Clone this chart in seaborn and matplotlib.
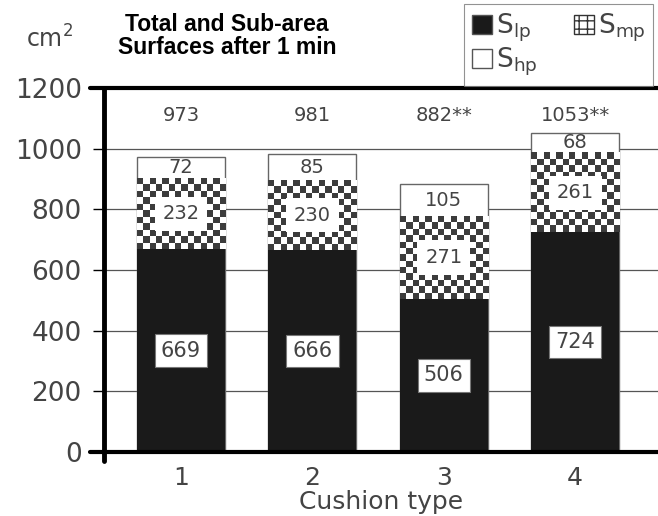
import numpy as np
import pandas as pd
import matplotlib
matplotlib.use("Agg")
import matplotlib.pyplot as plt
import seaborn as sns
from matplotlib.patches import Patch

# Dados
TIPOS = ["1", "2", "3", "4"]
S_LP = [669, 666, 506, 724]
S_MP = [232, 230, 271, 261]
S_HP = [72, 85, 105, 68]
TOTAIS = ["973", "981", "882**", "1053**"]
Y_TICKS = [0, 200, 400, 600, 800, 1000, 1200]

df = pd.DataFrame({"tipo": TIPOS, "lp": S_LP, "mp": S_MP, "hp": S_HP})
df["lp_mp"] = df["lp"] + df["mp"]
df["total"] = df["lp_mp"] + df["hp"]

# Estilo
sns.set_theme(style="white")
plt.rcParams["font.family"] = ["DejaVu Sans"]
COR_TXT = "#444444"
ESCURO = "#1a1a1a"
LARG = 0.67

fig = plt.figure(figsize=(6.58, 5.16), dpi=100)
ax = fig.add_axes([104 / 658, 64 / 516, 1 - 104 / 658, (452 - 88) / 516])

# Barras empilhadas (desenhadas do total para baixo)
sns.barplot(data=df, x="tipo", y="total", color="white", edgecolor="#666",
            linewidth=1, width=LARG, saturation=1, ax=ax)
sns.barplot(data=df, x="tipo", y="lp_mp", color="white", linewidth=0,
            width=LARG, saturation=1, ax=ax)
sns.barplot(data=df, x="tipo", y="lp", color=ESCURO, linewidth=0,
            width=LARG, saturation=1, ax=ax)

# Padrão xadrez no segmento do meio
cel_y = 21.5
for i, (lp, mp) in enumerate(zip(S_LP, S_MP)):
    ny = max(1, int(round(mp / cel_y)))
    nx = 14
    xadrez = (np.add.outer(np.arange(ny), np.arange(nx)) % 2).astype(float)
    ax.imshow(xadrez, extent=[i - LARG / 2, i + LARG / 2, lp, lp + mp],
              cmap=matplotlib.colors.ListedColormap(["#3c3c3c", "white"]),
              aspect="auto", interpolation="nearest", zorder=3)

# Rótulos
caixa = dict(boxstyle="square,pad=0.3", fc="white", ec="#777", lw=0.8)
for i, row in df.iterrows():
    ax.text(i, row["lp"] / 2, str(row["lp"]), ha="center", va="center",
            fontsize=15, color=COR_TXT, bbox=caixa, zorder=6)
    ax.text(i, row["lp"] + row["mp"] / 2, str(row["mp"]), ha="center", va="center",
            fontsize=14, color=COR_TXT, zorder=6,
            bbox=dict(boxstyle="square,pad=0.4", fc="white", ec="none"))
    ax.text(i, row["lp_mp"] + row["hp"] / 2, str(row["hp"]), ha="center", va="center",
            fontsize=14, color=COR_TXT, zorder=6)
    ax.text(i, 1108, TOTAIS[i], ha="center", va="center", fontsize=14,
            color=COR_TXT, zorder=6)

# Eixos
ax.set_xlim(-0.586, 3.63)
ax.set_ylim(0, 1200)
ax.set_yticks(Y_TICKS)
ax.set_axisbelow(True)
ax.yaxis.grid(True, color="#555", lw=0.9)
ax.xaxis.grid(False)
for lado in ["left", "right", "top", "bottom"]:
    ax.spines[lado].set_visible(False)
ax.axvline(-0.586, ymin=-0.025, ymax=1, color="black", lw=3.5, clip_on=False, zorder=7)
ax.axhline(0, xmin=-0.025, xmax=1, color="black", lw=3, clip_on=False, zorder=7)
ax.axhline(1200, xmin=-0.025, xmax=1, color="black", lw=3, clip_on=False, zorder=7)
ax.tick_params(axis="y", which="major", direction="out", length=8, width=1,
               color="black", labelsize=19, labelcolor=COR_TXT, pad=8, left=True)
ax.tick_params(axis="x", length=0, labelsize=18, labelcolor=COR_TXT, pad=10)
ax.set_xlabel("Cushion type", fontsize=18, color=COR_TXT, labelpad=0)
ax.set_ylabel("")

# Títulos e unidade
fig.text(0.345, 0.940, "Total and Sub-area", ha="center", va="baseline",
         fontsize=16.5, fontweight="bold", family=["Liberation Sans"], color="black")
fig.text(0.345, 0.896, "Surfaces after 1 min", ha="center", va="baseline",
         fontsize=16.5, fontweight="bold", family=["Liberation Sans"], color="black")
fig.text(0.075, 0.907, "cm$^\\mathregular{2}$", ha="center", va="baseline",
         fontsize=17, color=COR_TXT)

# Legenda
h_lp = Patch(facecolor=ESCURO, edgecolor="#555", label="S$_\\mathregular{lp}$")
h_mp = Patch(facecolor="white", edgecolor="#333", hatch="++", label="S$_\\mathregular{mp}$")
h_hp = Patch(facecolor="white", edgecolor="#555", label="S$_\\mathregular{hp}$")
leg = fig.legend(handles=[h_lp, h_hp, h_mp], ncol=2, loc="upper right",
                 bbox_to_anchor=(0.993, 0.992), borderaxespad=0, fontsize=19,
                 frameon=True, fancybox=False, handlelength=0.75, handleheight=0.75,
                 handletextpad=0.15, columnspacing=1.4, labelspacing=0.05,
                 borderpad=0.3, labelcolor=COR_TXT)
leg.get_frame().set_edgecolor("#777")
leg.get_frame().set_linewidth(0.8)

fig.savefig("out.png", dpi=100)
